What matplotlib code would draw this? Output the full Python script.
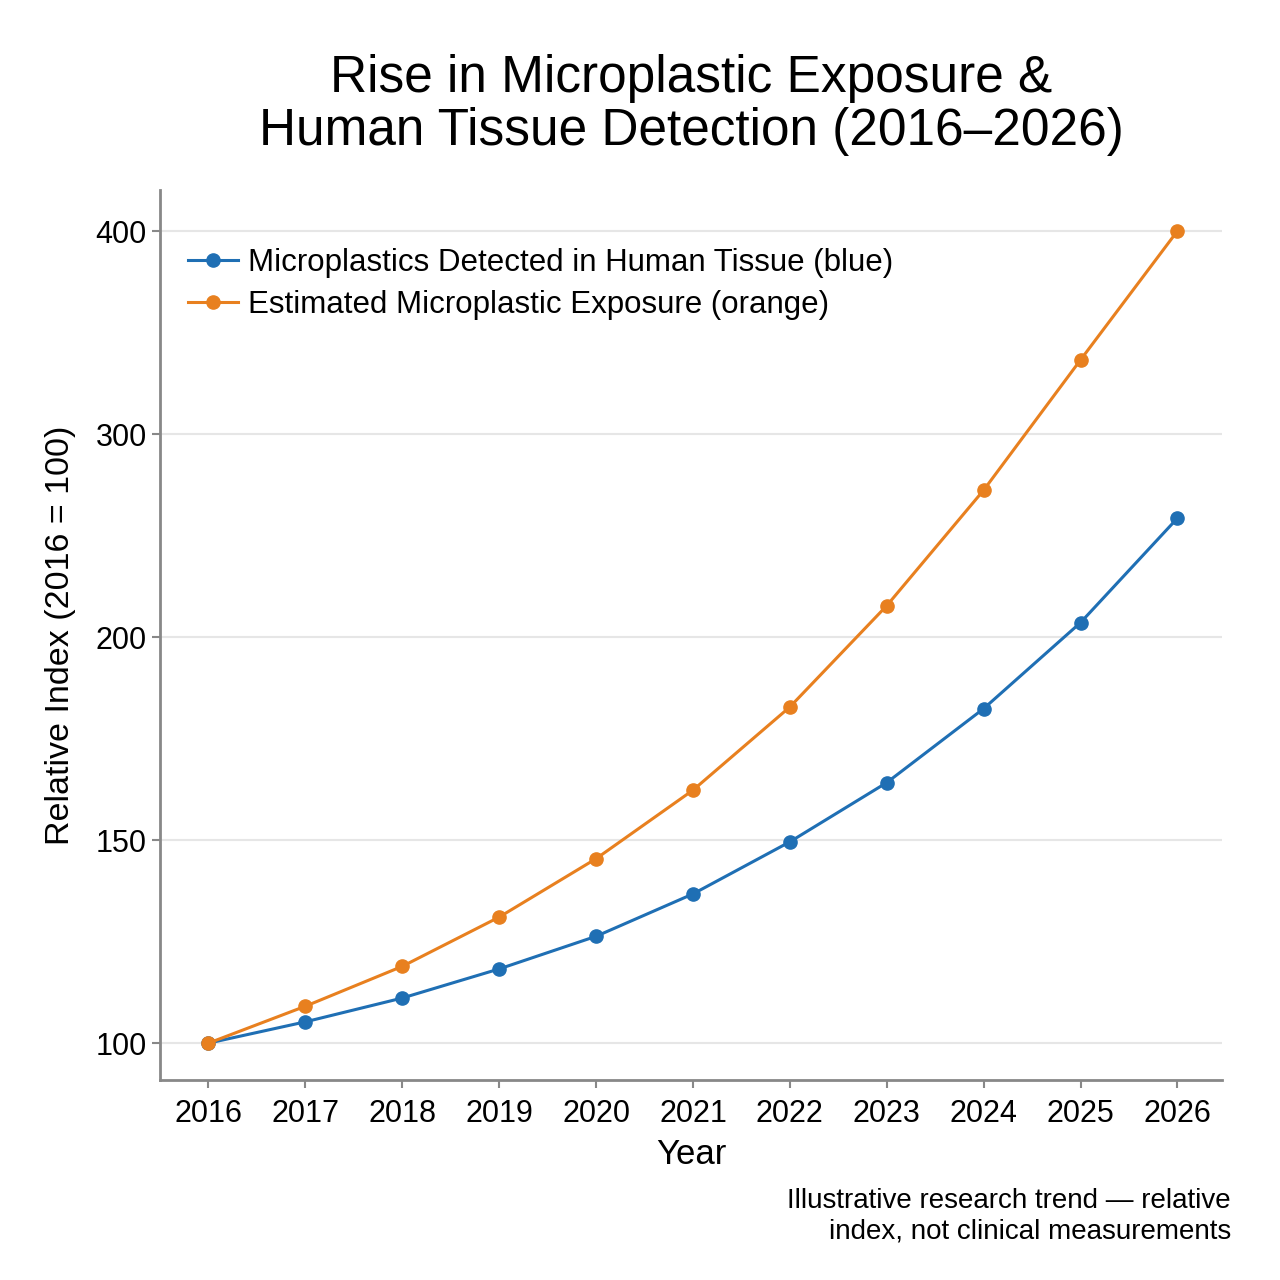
import matplotlib
matplotlib.use("Agg")
import matplotlib.pyplot as plt
from matplotlib.ticker import FixedLocator, FixedFormatter, NullLocator

plt.rcParams['font.family'] = ['Liberation Sans Narrow', 'Liberation Sans', 'DejaVu Sans']

years = [2016, 2017, 2018, 2019, 2020, 2021, 2022, 2023, 2024, 2025, 2026]
tissue = [100, 103.7, 108, 113.5, 120, 129, 141, 156, 177, 205, 245]
exposure = [100, 106.5, 114, 124, 137, 154, 177.5, 211, 257, 321, 400]
ytick_labels = ["100", "150", "200", "300", "400"]
ytick_pos = [100, 141.42, 200, 282.84, 400]

blue = "#1f6fb4"
orange = "#e8801f"

fig = plt.figure(figsize=(12.8, 12.8), dpi=100)
ax = fig.add_axes([160/1280, 1 - 1080/1280, (1222-160)/1280, (1080-190)/1280])

ax.plot(years, tissue, color=blue, lw=2.2, marker='o', ms=9.5,
        label="Microplastics Detected in Human Tissue (blue)")
ax.plot(years, exposure, color=orange, lw=2.2, marker='o', ms=9.5,
        label="Estimated Microplastic Exposure (orange)")

ax.set_yscale('log', base=2)
ax.set_ylim(93.9, 429)
ax.set_xlim(2015.5, 2026.46)
ax.yaxis.set_major_locator(FixedLocator(ytick_pos))
ax.yaxis.set_major_formatter(FixedFormatter(ytick_labels))
ax.yaxis.set_minor_locator(NullLocator())
ax.set_xticks(years)
ax.set_xticklabels([str(y) for y in years])

ax.grid(axis='y', color='#e6e6e6', lw=1.5)
ax.set_axisbelow(True)
for s in ['top', 'right']:
    ax.spines[s].set_visible(False)
for s in ['left', 'bottom']:
    ax.spines[s].set_color('#888888')
    ax.spines[s].set_linewidth(2)
ax.tick_params(axis='both', colors='#888888', labelcolor='black', labelsize=22, length=6, width=1.5)
ax.tick_params(axis='x', pad=8)

ax.set_xlabel("Year", fontsize=25, labelpad=6)
ax.set_ylabel("Relative Index (2016 = 100)", fontsize=24.5, labelpad=14)

fig.suptitle("Rise in Microplastic Exposure &\nHuman Tissue Detection (2016–2026)",
             fontsize=37, x=0.54, y=0.958, va='top', linespacing=1.12)

ax.legend(loc='upper left', bbox_to_anchor=(0.0, 0.966), frameon=False, fontsize=22.5,
          handlelength=1.6, handletextpad=0.3, labelspacing=0.38)

fig.text(1231/1280, 1 - 1188/1280, "Illustrative research trend — relative\nindex, not clinical measurements",
         ha='right', va='top', fontsize=20, multialignment='right', linespacing=1.2)

fig.savefig("out.png", dpi=100, facecolor='white')
